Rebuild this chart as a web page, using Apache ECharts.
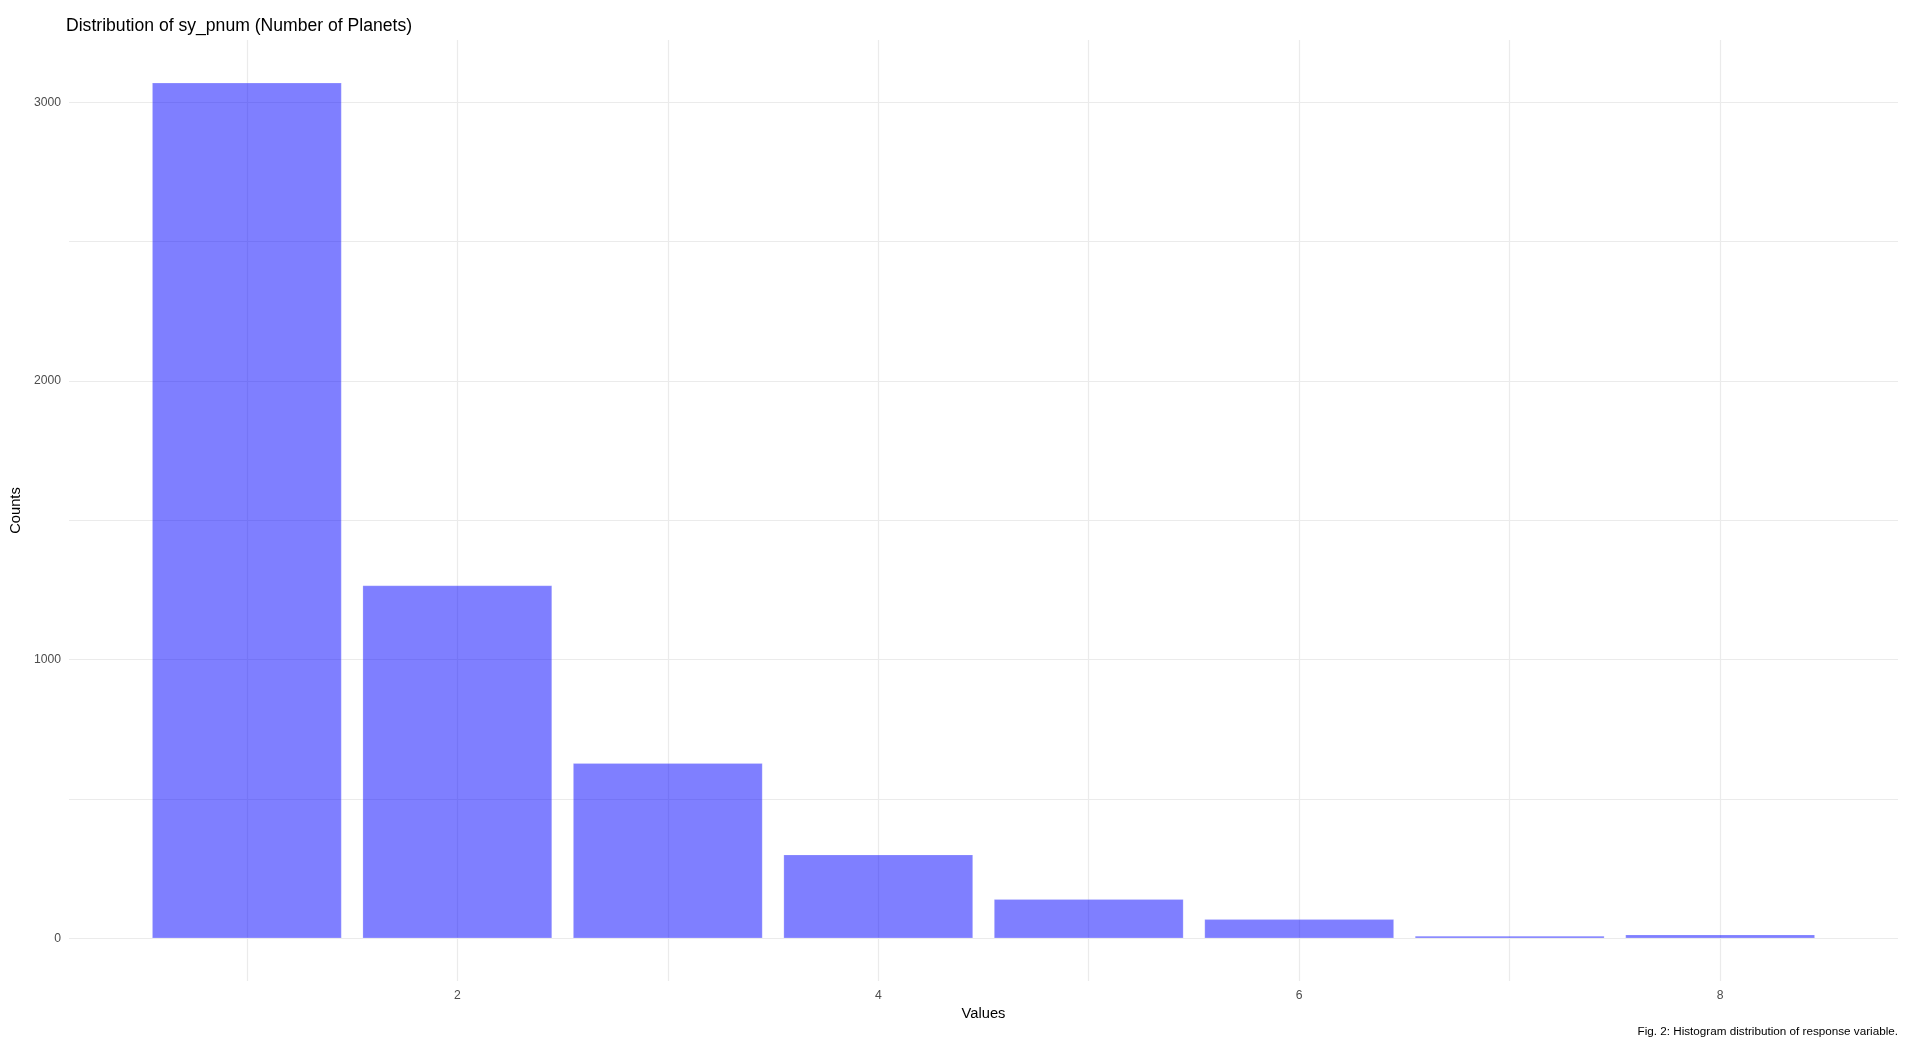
<!DOCTYPE html>
<html>
<head>
<meta charset="utf-8">
<script src="https://cdn.jsdelivr.net/npm/echarts@6/dist/echarts.min.js"></script>
<style>
html,body{margin:0;padding:0;background:#fff;}
#main{width:1915px;height:1055px;}
</style>
</head>
<body>
<div id="main"></div>
<script>
// Data
var planetCounts = [1, 2, 3, 4, 5, 6, 7, 8];            // sy_pnum values (x)
var countValues  = [3070, 1266, 628, 300, 140, 68, 8, 13]; // bar heights
var xTickLabels  = [2, 4, 6, 8];
var yTickLabels  = [0, 1000, 2000, 3000];

var titleText   = 'Distribution of sy_pnum (Number of Planets)';
var xTitle      = 'Values';
var yTitle      = 'Counts';
var captionText = 'Fig. 2: Histogram distribution of response variable.';

var FONT = '"Liberation Sans", Arial, Helvetica, sans-serif';
var GRID = '#EBEBEB';

var seriesData = planetCounts.map(function (v, i) { return [v, countValues[i]]; });

// ggplot-style 5% expansion
var xMin = Math.min.apply(null, planetCounts) - 0.45;
var xMax = Math.max.apply(null, planetCounts) + 0.45;
var xSpan = xMax - xMin;
var yMaxData = Math.max.apply(null, countValues);

var chart = echarts.init(document.getElementById('main'), null, {renderer: 'canvas'});
chart.setOption({
  backgroundColor: '#ffffff',
  animation: false,
  title: {
    text: titleText,
    left: 66,
    top: 17.5,
    padding: 0,
    textStyle: {fontFamily: FONT, fontSize: 17.6, fontWeight: 'normal', color: '#000000'}
  },
  grid: {left: 65, right: 17, top: 40, bottom: 74, containLabel: false},
  xAxis: {
    type: 'value',
    min: xMin - 0.05 * xSpan,
    max: xMax + 0.05 * xSpan,
    splitNumber: 8,
    minInterval: 1,
    maxInterval: 1,
    name: xTitle,
    nameLocation: 'middle',
    nameGap: 24,
    nameTextStyle: {fontFamily: FONT, fontSize: 14.7, color: '#000000'},
    axisLine: {show: false},
    axisTick: {show: false},
    axisLabel: {
      margin: 9,
      fontFamily: FONT, fontSize: 12.2, color: '#4D4D4D',
      showMinLabel: true, showMaxLabel: true,
      formatter: function (v) {
        var r = Math.round(v);
        return (Math.abs(v - r) < 1e-6 && xTickLabels.indexOf(r) >= 0) ? String(r) : '';
      }
    },
    splitLine: {show: true, showMinLine: false, showMaxLine: false,
      lineStyle: {color: GRID, width: 1.2}}
  },
  yAxis: {
    type: 'value',
    min: -0.05 * yMaxData,
    max: 1.05 * yMaxData,
    splitNumber: 7,
    minInterval: 500,
    maxInterval: 500,
    name: yTitle,
    nameLocation: 'middle',
    nameRotate: 90,
    nameGap: 31,
    nameTextStyle: {fontFamily: FONT, fontSize: 14.7, color: '#000000'},
    axisLine: {show: false},
    axisTick: {show: false},
    axisLabel: {
      margin: 8,
      fontFamily: FONT, fontSize: 12.2, color: '#4D4D4D',
      formatter: function (v) {
        var r = Math.round(v);
        return (Math.abs(v - r) < 1e-6 && yTickLabels.indexOf(r) >= 0) ? String(r) : '';
      }
    },
    splitLine: {show: true, showMinLine: false, showMaxLine: false,
      lineStyle: {color: GRID, width: 1.2}}
  },
  series: [{
    type: 'bar',
    data: seriesData,
    barWidth: '90%',
    itemStyle: {
      color: 'rgba(0,0,255,0.5)',
      borderColor: 'rgba(255,255,255,0.3)',
      borderWidth: 0.6
    }
  }],
  graphic: [{
    type: 'text',
    right: 17,
    top: 1026,
    style: {text: captionText, font: '11.7px ' + FONT, fill: '#000000'}
  }]
});
</script>
</body>
</html>
